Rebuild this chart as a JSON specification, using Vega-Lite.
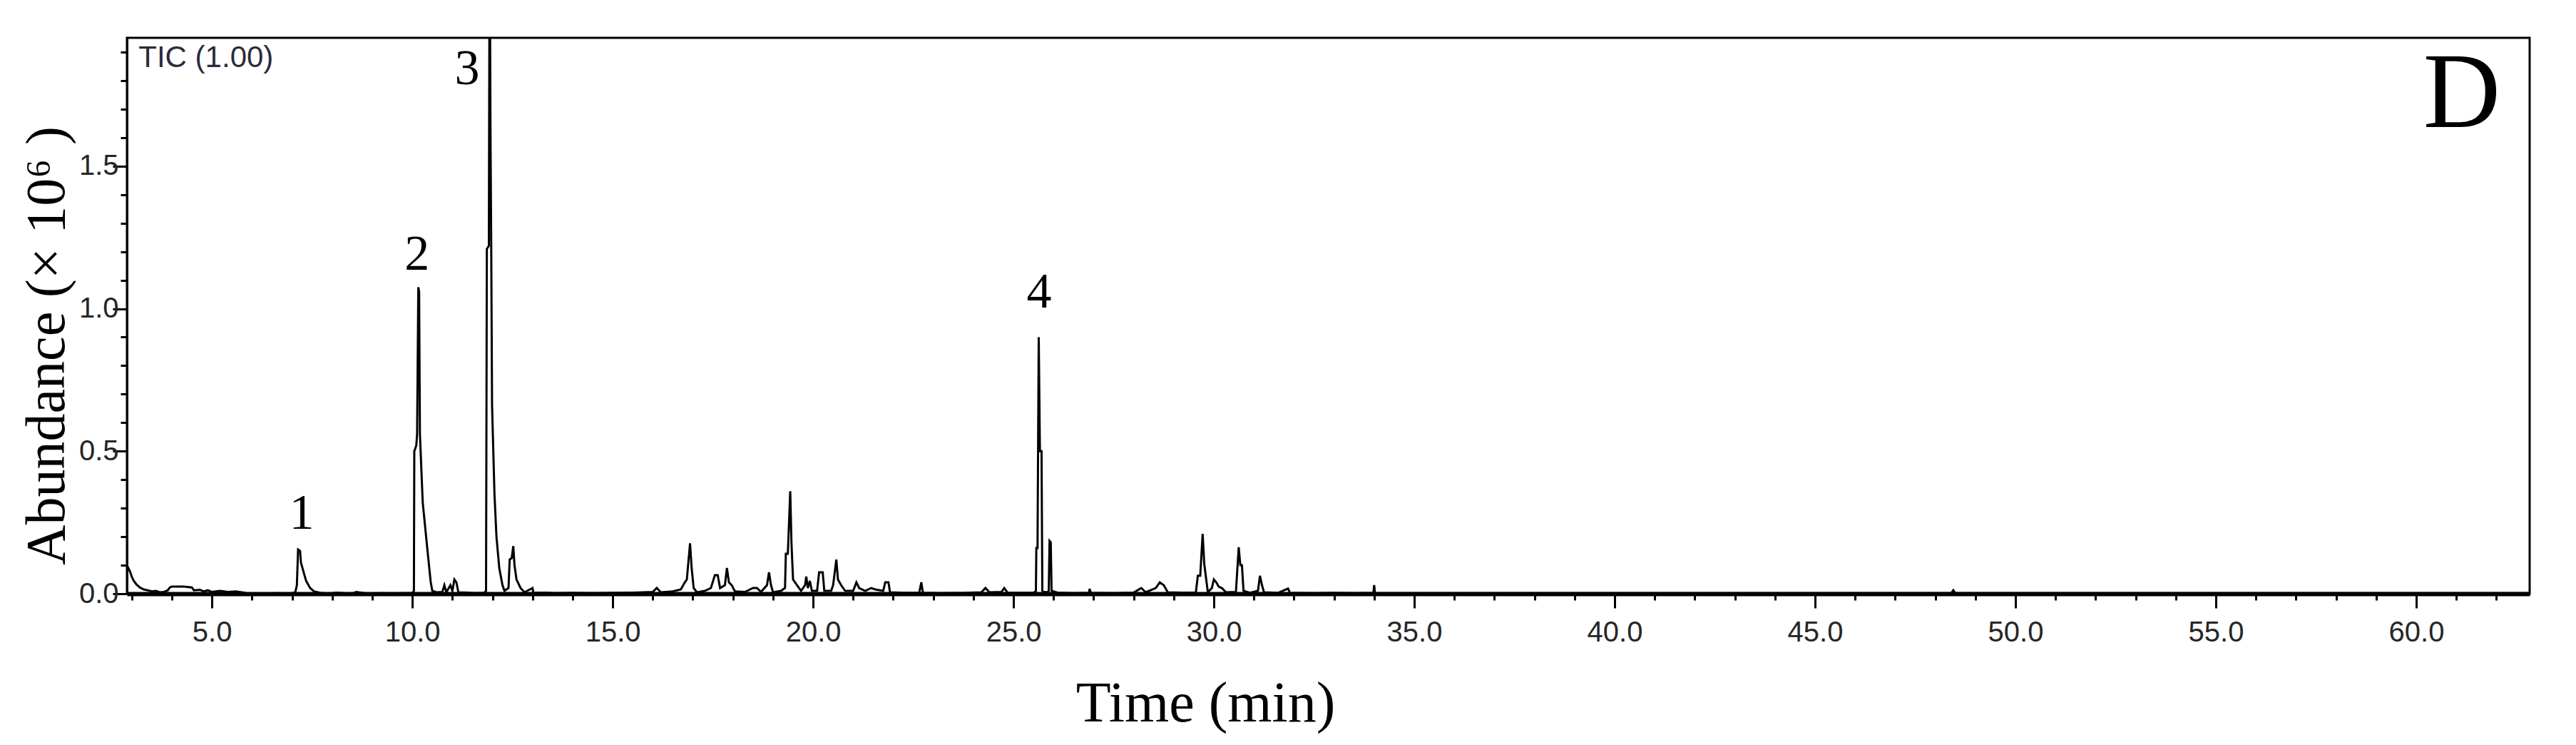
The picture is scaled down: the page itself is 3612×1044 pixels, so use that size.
{
  "$schema": "https://vega.github.io/schema/vega-lite/v6.json",
  "width": 3369,
  "height": 779,
  "autosize": {"type": "none"},
  "padding": {"left": 178, "top": 53, "right": 65, "bottom": 212},
  "background": "white",
  "config": {"view": {"stroke": "black", "strokeWidth": 3}},
  "datasets": {
    "tic": [
      {"t": 2.88, "a": 0.1}, {"t": 2.95, "a": 0.08}, {"t": 3.0, "a": 0.06}, {"t": 3.05, "a": 0.045}, {"t": 3.12, "a": 0.032}, {"t": 3.2, "a": 0.022}, {"t": 3.3, "a": 0.015}, {"t": 3.4, "a": 0.012}, {"t": 3.5, "a": 0.008}, {"t": 3.6, "a": 0.01}, {"t": 3.7, "a": 0.005}, {"t": 3.8, "a": 0.006}, {"t": 3.9, "a": 0.012}, {"t": 3.95, "a": 0.022}, {"t": 4.0, "a": 0.025}, {"t": 4.3, "a": 0.025}, {"t": 4.5, "a": 0.022}, {"t": 4.55, "a": 0.012}, {"t": 4.7, "a": 0.014}, {"t": 4.8, "a": 0.008}, {"t": 4.9, "a": 0.012}, {"t": 5.0, "a": 0.006}, {"t": 5.2, "a": 0.01}, {"t": 5.4, "a": 0.006}, {"t": 5.6, "a": 0.008}, {"t": 5.8, "a": 0.004}, {"t": 6.0, "a": -0.003}, {"t": 6.2, "a": 0.0}, {"t": 6.4, "a": -0.002}, {"t": 6.6, "a": 0.002}, {"t": 6.8, "a": 0.001}, {"t": 7.0, "a": 0.002},
      {"t": 7.08, "a": 0.005}, {"t": 7.12, "a": 0.03}, {"t": 7.15, "a": 0.155}, {"t": 7.2, "a": 0.15}, {"t": 7.22, "a": 0.11}, {"t": 7.28, "a": 0.08}, {"t": 7.35, "a": 0.045}, {"t": 7.45, "a": 0.02}, {"t": 7.55, "a": 0.008}, {"t": 7.7, "a": 0.003}, {"t": 7.9, "a": 0.0}, {"t": 8.1, "a": 0.004}, {"t": 8.3, "a": 0.002}, {"t": 8.5, "a": 0.0}, {"t": 8.6, "a": 0.006}, {"t": 8.8, "a": 0.002}, {"t": 9.0, "a": 0.0}, {"t": 9.2, "a": 0.002}, {"t": 9.5, "a": 0.001}, {"t": 9.8, "a": 0.002}, {"t": 10.0, "a": 0.002},
      {"t": 10.04, "a": 0.01}, {"t": 10.05, "a": 0.5}, {"t": 10.1, "a": 0.52}, {"t": 10.12, "a": 0.56}, {"t": 10.15, "a": 1.075}, {"t": 10.17, "a": 1.06}, {"t": 10.19, "a": 0.56}, {"t": 10.26, "a": 0.32}, {"t": 10.38, "a": 0.15}, {"t": 10.46, "a": 0.04}, {"t": 10.5, "a": 0.01}, {"t": 10.6, "a": 0.005}, {"t": 10.75, "a": 0.006}, {"t": 10.8, "a": 0.03}, {"t": 10.85, "a": 0.005}, {"t": 10.95, "a": 0.03}, {"t": 11.0, "a": 0.01}, {"t": 11.05, "a": 0.05}, {"t": 11.1, "a": 0.04}, {"t": 11.15, "a": 0.005}, {"t": 11.4, "a": 0.004}, {"t": 11.6, "a": 0.002}, {"t": 11.8, "a": 0.003},
      {"t": 11.84, "a": 0.01}, {"t": 11.86, "a": 1.21}, {"t": 11.91, "a": 1.22}, {"t": 11.93, "a": 2.4}, {"t": 11.95, "a": 1.64}, {"t": 11.97, "a": 1.2}, {"t": 11.99, "a": 0.66}, {"t": 12.05, "a": 0.35}, {"t": 12.1, "a": 0.2}, {"t": 12.17, "a": 0.09}, {"t": 12.25, "a": 0.03}, {"t": 12.3, "a": 0.01}, {"t": 12.4, "a": 0.02}, {"t": 12.43, "a": 0.12}, {"t": 12.48, "a": 0.125}, {"t": 12.52, "a": 0.167}, {"t": 12.55, "a": 0.1}, {"t": 12.6, "a": 0.05}, {"t": 12.7, "a": 0.02}, {"t": 12.8, "a": 0.005}, {"t": 13.0, "a": 0.02}, {"t": 13.02, "a": 0.003}, {"t": 13.3, "a": 0.004}, {"t": 13.6, "a": 0.002}, {"t": 14.0, "a": 0.003}, {"t": 14.5, "a": 0.002}, {"t": 15.0, "a": 0.003}, {"t": 15.5, "a": 0.004}, {"t": 16.0, "a": 0.006}, {"t": 16.1, "a": 0.02}, {"t": 16.2, "a": 0.005}, {"t": 16.5, "a": 0.008}, {"t": 16.7, "a": 0.015}, {"t": 16.8, "a": 0.04}, {"t": 16.85, "a": 0.05}, {"t": 16.93, "a": 0.177}, {"t": 16.97, "a": 0.09}, {"t": 17.02, "a": 0.02}, {"t": 17.1, "a": 0.005}, {"t": 17.3, "a": 0.01}, {"t": 17.45, "a": 0.02}, {"t": 17.55, "a": 0.065}, {"t": 17.62, "a": 0.065}, {"t": 17.68, "a": 0.02}, {"t": 17.8, "a": 0.03}, {"t": 17.85, "a": 0.09}, {"t": 17.9, "a": 0.04}, {"t": 17.97, "a": 0.03}, {"t": 18.05, "a": 0.008}, {"t": 18.3, "a": 0.006}, {"t": 18.5, "a": 0.02}, {"t": 18.6, "a": 0.02}, {"t": 18.7, "a": 0.006}, {"t": 18.85, "a": 0.03}, {"t": 18.9, "a": 0.075}, {"t": 18.95, "a": 0.03}, {"t": 19.0, "a": 0.005}, {"t": 19.2, "a": 0.01}, {"t": 19.3, "a": 0.02}, {"t": 19.32, "a": 0.14}, {"t": 19.37, "a": 0.14}, {"t": 19.43, "a": 0.36}, {"t": 19.46, "a": 0.18}, {"t": 19.5, "a": 0.05}, {"t": 19.6, "a": 0.03}, {"t": 19.7, "a": 0.01}, {"t": 19.8, "a": 0.03}, {"t": 19.83, "a": 0.06}, {"t": 19.87, "a": 0.02}, {"t": 19.92, "a": 0.045}, {"t": 19.97, "a": 0.01}, {"t": 20.1, "a": 0.01}, {"t": 20.15, "a": 0.075}, {"t": 20.24, "a": 0.075}, {"t": 20.28, "a": 0.01}, {"t": 20.45, "a": 0.01}, {"t": 20.5, "a": 0.03}, {"t": 20.58, "a": 0.12}, {"t": 20.62, "a": 0.05}, {"t": 20.7, "a": 0.03}, {"t": 20.8, "a": 0.01}, {"t": 21.0, "a": 0.01}, {"t": 21.08, "a": 0.04}, {"t": 21.15, "a": 0.02}, {"t": 21.3, "a": 0.01}, {"t": 21.45, "a": 0.02}, {"t": 21.55, "a": 0.015}, {"t": 21.75, "a": 0.01}, {"t": 21.8, "a": 0.04}, {"t": 21.88, "a": 0.04}, {"t": 21.92, "a": 0.005}, {"t": 22.3, "a": 0.003}, {"t": 22.65, "a": 0.004}, {"t": 22.7, "a": 0.04}, {"t": 22.74, "a": 0.003}, {"t": 23.2, "a": 0.002}, {"t": 23.8, "a": 0.003}, {"t": 24.2, "a": 0.005}, {"t": 24.3, "a": 0.02}, {"t": 24.4, "a": 0.005}, {"t": 24.7, "a": 0.006}, {"t": 24.77, "a": 0.02}, {"t": 24.85, "a": 0.004}, {"t": 25.2, "a": 0.003}, {"t": 25.5, "a": 0.003},
      {"t": 25.56, "a": 0.01}, {"t": 25.57, "a": 0.16}, {"t": 25.6, "a": 0.16}, {"t": 25.63, "a": 0.9}, {"t": 25.66, "a": 0.5}, {"t": 25.7, "a": 0.5}, {"t": 25.72, "a": 0.01}, {"t": 25.8, "a": 0.005}, {"t": 25.88, "a": 0.01}, {"t": 25.9, "a": 0.185}, {"t": 25.93, "a": 0.18}, {"t": 25.95, "a": 0.01}, {"t": 26.1, "a": 0.004}, {"t": 26.5, "a": 0.002}, {"t": 26.88, "a": 0.003}, {"t": 26.9, "a": 0.017}, {"t": 26.93, "a": 0.003}, {"t": 27.5, "a": 0.002}, {"t": 28.0, "a": 0.004}, {"t": 28.19, "a": 0.02}, {"t": 28.3, "a": 0.005}, {"t": 28.55, "a": 0.02}, {"t": 28.65, "a": 0.04}, {"t": 28.75, "a": 0.03}, {"t": 28.85, "a": 0.005}, {"t": 29.2, "a": 0.004}, {"t": 29.55, "a": 0.004}, {"t": 29.6, "a": 0.063}, {"t": 29.66, "a": 0.063}, {"t": 29.72, "a": 0.21}, {"t": 29.76, "a": 0.105}, {"t": 29.8, "a": 0.06}, {"t": 29.85, "a": 0.005}, {"t": 29.95, "a": 0.02}, {"t": 30.0, "a": 0.05}, {"t": 30.06, "a": 0.04}, {"t": 30.12, "a": 0.025}, {"t": 30.2, "a": 0.02}, {"t": 30.3, "a": 0.005}, {"t": 30.55, "a": 0.006}, {"t": 30.62, "a": 0.163}, {"t": 30.66, "a": 0.1}, {"t": 30.7, "a": 0.1}, {"t": 30.74, "a": 0.01}, {"t": 30.9, "a": 0.003}, {"t": 31.1, "a": 0.01}, {"t": 31.15, "a": 0.063}, {"t": 31.2, "a": 0.03}, {"t": 31.25, "a": 0.005}, {"t": 31.6, "a": 0.003}, {"t": 31.85, "a": 0.018}, {"t": 31.9, "a": 0.003}, {"t": 32.5, "a": 0.002}, {"t": 33.0, "a": 0.003}, {"t": 33.5, "a": 0.002}, {"t": 33.98, "a": 0.003}, {"t": 34.0, "a": 0.03}, {"t": 34.02, "a": 0.002}, {"t": 35.0, "a": 0.002}, {"t": 40.0, "a": 0.002}, {"t": 45.0, "a": 0.002}, {"t": 48.4, "a": 0.002}, {"t": 48.45, "a": 0.012}, {"t": 48.5, "a": 0.002}, {"t": 55.0, "a": 0.002}, {"t": 62.83, "a": 0.002}
    ],
    "peaks": [
      {"t": 7.24, "a": 0.28, "label": "1"},
      {"t": 10.12, "a": 1.19, "label": "2"},
      {"t": 11.37, "a": 1.84, "label": "3"},
      {"t": 25.64, "a": 1.056, "label": "4"}
    ],
    "panel": [{"t": 61.14, "a": 1.75, "label": "D"}],
    "mode": [{"t": 3.17, "a": 1.88, "label": "TIC (1.00)"}]
  },
  "layer": [
    {
      "data": {"name": "tic"},
      "mark": {"type": "line", "color": "black", "strokeWidth": 3, "clip": true},
      "encoding": {
        "x": {
          "field": "t", "type": "quantitative",
          "scale": {"domain": [2.88, 62.83], "nice": false, "zero": false},
          "axis": {
            "values": [3,4,5,6,7,8,9,10,11,12,13,14,15,16,17,18,19,20,21,22,23,24,25,26,27,28,29,30,31,32,33,34,35,36,37,38,39,40,41,42,43,44,45,46,47,48,49,50,51,52,53,54,55,56,57,58,59,60,61,62],
            "labelExpr": "datum.value % 5 === 0 ? format(datum.value, '.1f') : ''",
            "tickSize": {"condition": {"test": "datum.value % 5 === 0", "value": 20}, "value": 9},
            "tickWidth": 3, "tickColor": "black",
            "domainColor": "black", "domainWidth": 6,
            "labelFont": "Liberation Sans", "labelFontSize": 40, "labelColor": "#262626",
            "labelPadding": 14, "labelOverlap": false, "labelFlush": false,
            "grid": false,
            "title": "Time (min)",
            "titleFont": "Liberation Serif", "titleFontSize": 80, "titleFontWeight": "normal", "titleColor": "black",
            "titleX": 1512, "titleY": 154, "titleBaseline": "middle", "titleAlign": "center"
          }
        },
        "y": {
          "field": "a", "type": "quantitative",
          "scale": {"domain": [0, 1.95], "nice": false, "zero": false},
          "axis": {
            "values": [0,0.1,0.2,0.3,0.4,0.5,0.6,0.7,0.8,0.9,1.0,1.1,1.2,1.3,1.4,1.5,1.6,1.7,1.8,1.9],
            "labelExpr": "abs(datum.value*2 - round(datum.value*2)) < 0.001 ? format(datum.value, '.1f') : ''",
            "tickSize": {"condition": {"test": "abs(datum.value*2 - round(datum.value*2)) < 0.001", "value": 20}, "value": 9},
            "tickWidth": 3, "tickColor": "black",
            "domainColor": "black", "domainWidth": 3,
            "labelFont": "Liberation Sans", "labelFontSize": 40, "labelColor": "#262626",
            "labelPadding": -8, "labelOverlap": false, "labelFlush": false,
            "grid": false,
            "title": "Abundance (× 10⁶ )",
            "titleFont": "Liberation Serif", "titleFontSize": 78, "titleFontWeight": "normal", "titleColor": "black",
            "titleX": -112, "titleY": 431, "titleBaseline": "middle", "titleAlign": "center", "titleAngle": -90
          }
        }
      }
    },
    {
      "data": {"name": "peaks"},
      "mark": {"type": "text", "font": "Liberation Serif", "fontSize": 70, "color": "black", "align": "center", "baseline": "middle"},
      "encoding": {
        "x": {"field": "t", "type": "quantitative"},
        "y": {"field": "a", "type": "quantitative"},
        "text": {"field": "label"}
      }
    },
    {
      "data": {"name": "panel"},
      "mark": {"type": "text", "font": "Liberation Serif", "fontSize": 150, "color": "black", "align": "center", "baseline": "middle"},
      "encoding": {
        "x": {"field": "t", "type": "quantitative"},
        "y": {"field": "a", "type": "quantitative"},
        "text": {"field": "label"}
      }
    },
    {
      "data": {"name": "mode"},
      "mark": {"type": "text", "font": "Liberation Sans", "fontSize": 42, "color": "#2b2b3a", "align": "left", "baseline": "middle"},
      "encoding": {
        "x": {"field": "t", "type": "quantitative"},
        "y": {"field": "a", "type": "quantitative"},
        "text": {"field": "label"}
      }
    }
  ]
}
